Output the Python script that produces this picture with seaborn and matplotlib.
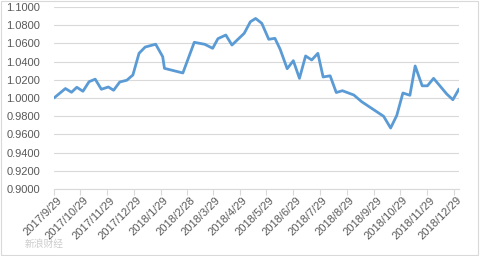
import matplotlib
matplotlib.use("Agg")
import matplotlib.pyplot as plt
import matplotlib.dates as mdates
import matplotlib.ticker as mticker
import seaborn as sns
import pandas as pd

dates = [
    "2017-09-29", "2017-10-12", "2017-10-19", "2017-10-25", "2017-11-01", "2017-11-08",
    "2017-11-15", "2017-11-22", "2017-11-30", "2017-12-06", "2017-12-13", "2017-12-21",
    "2017-12-28", "2018-01-04", "2018-01-11", "2018-01-23", "2018-01-31", "2018-02-02",
    "2018-02-23", "2018-03-08", "2018-03-20", "2018-03-29", "2018-04-04", "2018-04-13",
    "2018-04-20", "2018-05-04", "2018-05-11", "2018-05-17", "2018-05-24", "2018-06-01",
    "2018-06-08", "2018-06-14", "2018-06-22", "2018-06-29", "2018-07-06", "2018-07-13",
    "2018-07-20", "2018-07-27", "2018-08-02", "2018-08-10", "2018-08-17", "2018-08-24",
    "2018-09-06", "2018-09-15", "2018-10-10", "2018-10-18", "2018-10-25", "2018-11-01",
    "2018-11-09", "2018-11-15", "2018-11-23", "2018-11-29", "2018-12-06", "2018-12-21",
    "2018-12-28", "2019-01-04",
]
values = [
    1.0000, 1.0104, 1.0063, 1.0118, 1.0074, 1.0179,
    1.0207, 1.0096, 1.0121, 1.0085, 1.0176, 1.0195,
    1.0253, 1.0491, 1.0560, 1.0591, 1.0454, 1.0326,
    1.0275, 1.0612, 1.0590, 1.0546, 1.0652, 1.0692,
    1.0582, 1.0711, 1.0838, 1.0874, 1.0821, 1.0645,
    1.0656, 1.0535, 1.0322, 1.0410, 1.0216, 1.0462,
    1.0418, 1.0491, 1.0231, 1.0244, 1.0060, 1.0080,
    1.0033, 0.9959, 0.9799, 0.9670, 0.9808, 1.0055,
    1.0030, 1.0352, 1.0134, 1.0134, 1.0216, 1.0044,
    0.9981, 1.0099,
]
tick_dates = [
    "2017-09-29", "2017-10-29", "2017-11-29", "2017-12-29", "2018-01-29", "2018-02-28",
    "2018-03-29", "2018-04-29", "2018-05-29", "2018-06-29", "2018-07-29", "2018-08-29",
    "2018-09-29", "2018-10-29", "2018-11-29", "2018-12-29",
]
tick_labels = [
    "2017/9/29", "2017/10/29", "2017/11/29", "2017/12/29", "2018/1/29", "2018/2/28",
    "2018/3/29", "2018/4/29", "2018/5/29", "2018/6/29", "2018/7/29", "2018/8/29",
    "2018/9/29", "2018/10/29", "2018/11/29", "2018/12/29",
]
y_ticks = [0.90, 0.92, 0.94, 0.96, 0.98, 1.00, 1.02, 1.04, 1.06, 1.08, 1.10]

sns.set_theme(style="white")
plt.rcParams["font.family"] = ["Liberation Sans", "DejaVu Sans"]

df = pd.DataFrame({"date": pd.to_datetime(dates), "value": values})

fig = plt.figure(figsize=(4.81, 2.56), dpi=100)
ax = fig.add_axes([54 / 481, 1 - 189 / 256, (459 - 54) / 481, (189 - 7) / 256])

sns.lineplot(data=df, x="date", y="value", ax=ax, color="#5b9bd5", linewidth=2.0)

ax.set_xlim(df["date"].min(), df["date"].max())
ax.set_ylim(0.90, 1.10)
ax.set_yticks(y_ticks)
ax.yaxis.set_major_formatter(mticker.FormatStrFormatter("%.4f"))
ax.set_xticks(pd.to_datetime(tick_dates))
ax.set_xticklabels(tick_labels, rotation=45, ha="right", va="center",
                   rotation_mode="anchor")
ax.grid(axis="y", color="#d9d9d9", linewidth=0.8)
ax.set_axisbelow(True)
ax.set_xlabel("")
ax.set_ylabel("")
for s in ["top", "right", "left"]:
    ax.spines[s].set_visible(False)
ax.spines["bottom"].set_color("#d9d9d9")
ax.spines["bottom"].set_linewidth(0.8)
ax.tick_params(axis="x", which="major", bottom=True, length=4, width=0.8,
               color="#d9d9d9", labelsize=8, labelcolor="#595959", pad=3)
ax.tick_params(axis="y", left=False, labelsize=8, labelcolor="#595959", pad=4)
for lbl in ax.get_xticklabels():
    lbl.set_transform(lbl.get_transform() + matplotlib.transforms.ScaledTranslation(6 / 100, 0, fig.dpi_scale_trans))

fig.patches.append(plt.Rectangle((0.002, 0.004), 0.992, 0.992, transform=fig.transFigure,
                                 fill=False, edgecolor="#d9d9d9", linewidth=0.8))
fig.text(25 / 481, 1 - 244 / 256, "新浪财经", fontsize=7, color="#cccccc",
         family=["Noto Sans CJK SC", "DejaVu Sans"], va="center", ha="left")

fig.savefig("out.png", dpi=100)
